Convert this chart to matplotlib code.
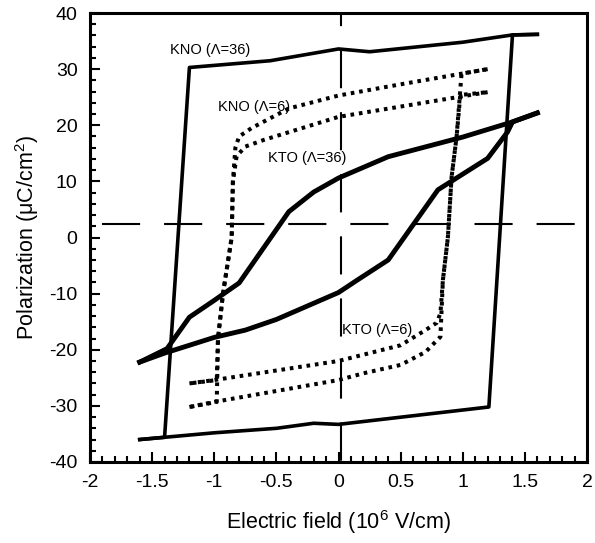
import matplotlib
matplotlib.use("Agg")
import matplotlib.pyplot as plt
from matplotlib.ticker import MultipleLocator

plt.rcParams['font.family'] = ['Liberation Sans', 'DejaVu Sans']
plt.rcParams['mathtext.fontset'] = 'custom'
plt.rcParams['mathtext.rm'] = 'Liberation Sans'

# KNO (Lambda=36), solid loop
kno36_up_x = [-1.6, -1.4, -1.0, -0.5, -0.2, 0.0, 1.21, 1.4, 1.6]
kno36_up_y = [-36.0, -35.6, -34.8, -34.0, -33.1, -33.3, -30.2, 36.1, 36.2]
kno36_dn_x = [1.6, 1.4, 1.0, 0.25, 0.0, -0.55, -1.2, -1.4, -1.6]
kno36_dn_y = [36.2, 36.1, 34.8, 33.1, 33.6, 31.5, 30.3, -35.6, -36.0]

# KTO (Lambda=36), thick solid loop
kto36_up_x = [-1.6, -1.4, -1.0, -0.75, -0.5, 0.0, 0.15, 0.4, 0.8, 1.2, 1.36, 1.4, 1.6]
kto36_up_y = [-22.2, -20.6, -17.8, -16.5, -14.6, -9.8, -7.6, -4.0, 8.5, 14.1, 18.8, 20.6, 22.2]
kto36_dn_x = [1.6, 1.4, 1.0, 0.4, 0.0, -0.2, -0.4, -0.8, -1.0, -1.2, -1.38, -1.6]
kto36_dn_y = [22.2, 20.6, 17.9, 14.4, 10.6, 8.1, 4.6, -8.1, -11.2, -14.2, -19.8, -22.2]

# KNO (Lambda=6), dotted loop
kno6_up_x = [-1.2, -1.0, 0.0, 0.2, 0.5, 0.7, 0.82, 0.84, 0.88, 0.91, 0.95, 0.99, 1.2]
kno6_up_y = [-30.2, -29.3, -25.4, -24.2, -22.7, -20.4, -17.7, -7.6, 0.0, 10.8, 17.9, 29.2, 30.0]
kno6_dn_x = [1.2, 0.5, 0.0, -0.4, -0.7, -0.8, -0.83, -0.85, -0.86, -0.93, -0.97, -0.98, -1.2]
kno6_dn_y = [30.0, 27.3, 25.3, 23.0, 19.5, 18.0, 16.0, 10.0, 0.0, -10.0, -18.0, -29.3, -30.2]

# KTO (Lambda=6), dotted loop
kto6_up_x = [-1.2, -1.0, 0.0, 0.5, 0.7, 0.79, 0.82, 0.84, 0.88, 0.91, 0.95, 0.98, 1.2]
kto6_up_y = [-26.0, -25.4, -22.0, -19.2, -16.5, -15.2, -13.5, -7.6, 0.0, 10.8, 17.9, 25.4, 25.9]
kto6_dn_x = [1.2, 0.0, -0.6, -0.75, -0.82, -0.85, -0.86, -0.93, -0.97, -0.98, -1.2]
kto6_dn_y = [25.9, 21.5, 17.4, 16.2, 14.5, 10.0, 0.0, -10.0, -18.0, -25.4, -26.0]

labels = ["KNO (\u039b=36)", "KNO (\u039b=6)", "KTO (\u039b=36)", "KTO (\u039b=6)"]
label_x = [-1.36, -0.97, -0.57, 0.03]
label_y = [33.4, 23.3, 14.2, -16.5]

fig = plt.figure(figsize=(5.95, 5.43), dpi=100)
ax = fig.add_axes([0.1513, 0.1492, 0.8353, 0.8268])

# dashed reference lines
ax.plot([-1.9, 1.93], [2.4, 2.4], color='black', lw=1.5, linestyle=(0, (18.3, 11.5)))
ax.plot([0.02, 0.02], [40, -40], color='black', lw=1.5, linestyle=(12, (18.3, 11.5)))

dots = (0, (0.9, 1.2))
for xs, ys in [(kno6_up_x, kno6_up_y), (kno6_dn_x, kno6_dn_y),
               (kto6_up_x, kto6_up_y), (kto6_dn_x, kto6_dn_y)]:
    ax.plot(xs, ys, color='black', lw=2.9, linestyle=dots)

ax.plot(kno36_up_x, kno36_up_y, color='black', lw=2.6)
ax.plot(kno36_dn_x, kno36_dn_y, color='black', lw=2.6)
ax.plot(kto36_up_x, kto36_up_y, color='black', lw=3.5)
ax.plot(kto36_dn_x, kto36_dn_y, color='black', lw=3.5)

for t, x, y in zip(labels, label_x, label_y):
    ax.text(x, y, t, fontsize=10.5, ha='left', va='center')

ax.set_xlim(-2, 2)
ax.set_ylim(-40, 40)
ax.xaxis.set_major_locator(MultipleLocator(0.5))
ax.xaxis.set_minor_locator(MultipleLocator(0.1))
ax.yaxis.set_major_locator(MultipleLocator(10))
ax.yaxis.set_minor_locator(MultipleLocator(2))
ax.xaxis.set_major_formatter(plt.FuncFormatter(lambda v, p: ('%g' % v)))
ax.yaxis.set_major_formatter(plt.FuncFormatter(lambda v, p: ('%g' % v)))
ax.tick_params(which='both', direction='in', top=False, right=False, width=1.5, labelsize=14)
ax.tick_params(which='major', length=7, pad=9)
ax.tick_params(which='minor', length=4)
for s in ax.spines.values():
    s.set_linewidth(2.2)

ax.set_xlabel("Electric field (10$^{6}$ V/cm)", fontsize=15.5, labelpad=12)
ax.set_ylabel("Polarization (\u03bcC/cm$^{2}$)", fontsize=15.5, labelpad=6)

fig.savefig("out.png", dpi=100)
